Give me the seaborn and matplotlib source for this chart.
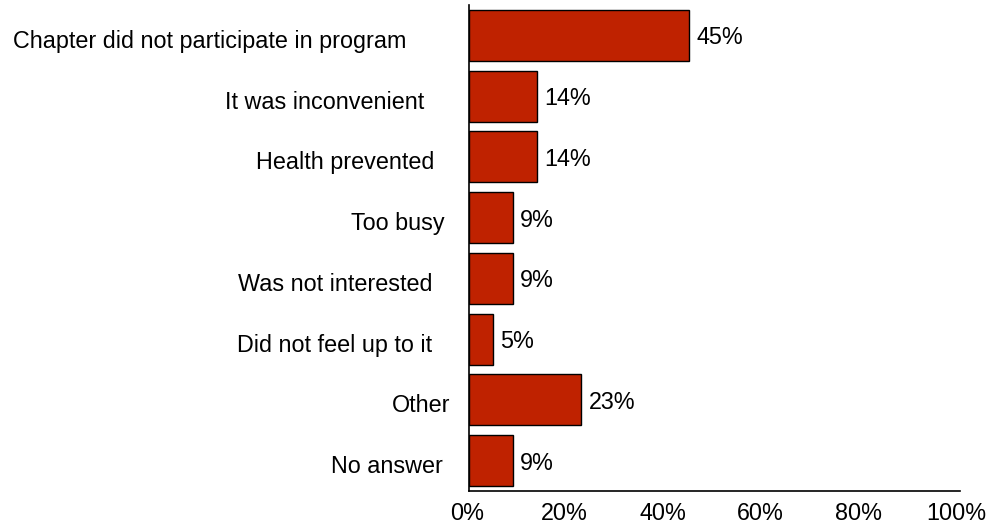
import matplotlib
matplotlib.use("Agg")
import matplotlib.pyplot as plt
import matplotlib.transforms as mtransforms
import seaborn as sns
import pandas as pd

reasons = ['Chapter did not participate in program',
           'It was inconvenient',
           'Health prevented',
           'Too busy',
           'Was not interested',
           'Did not feel up to it',
           'Other',
           'No answer']
percents = [45, 14, 14, 9, 9, 5, 23, 9]
ticks = [0, 20, 40, 60, 80, 100]
tick_labels = ['0%', '20%', '40%', '60%', '80%', '100%']

# gap between each label and the axis, in px (labels in the source were not aligned)
label_gaps = [63, 45, 35, 24, 37, 37, 19, 26]

df = pd.DataFrame({'reason': reasons, 'pct': percents})

sns.set_style('white')
plt.rcParams['font.family'] = ['Liberation Sans', 'DejaVu Sans']
fs = 16.8

fig = plt.figure(figsize=(9.88, 5.25), dpi=100)
ax = fig.add_axes([0.4747, 0.0648, 0.4970, 0.9257])

sns.barplot(data=df, x='pct', y='reason', orient='h', color='#BF2200',
            saturation=1, width=0.84, edgecolor='black', linewidth=1, ax=ax)

for i, v in enumerate(percents):
    ax.annotate(f'{v}%', xy=(v, i), xytext=(5, 0), textcoords='offset points',
                va='center_baseline', ha='left', fontsize=fs, color='black')

ax.set_xlim(0, 100.4)
ax.set_ylim(7.5, -0.5)
ax.set_xticks(ticks)
ax.set_xticklabels(tick_labels)
ax.set_xlabel('')
ax.set_ylabel('')
ax.tick_params(axis='both', length=0, labelsize=fs, labelcolor='black')
ax.tick_params(axis='x', pad=8)
for t, g in zip(ax.yaxis.get_major_ticks(), label_gaps):
    t.set_pad(g * 0.72)

# category labels sit a little below the bar centres in the source
shift = mtransforms.ScaledTranslation(0, -2.5 / 72, fig.dpi_scale_trans)
for lbl in ax.get_yticklabels():
    lbl.set_transform(lbl.get_transform() + shift)
xshift = mtransforms.ScaledTranslation(-1.5 / 72, 0, fig.dpi_scale_trans)
for lbl in ax.get_xticklabels():
    lbl.set_transform(lbl.get_transform() + xshift)

for s in ['top', 'right']:
    ax.spines[s].set_visible(False)
for s in ['left', 'bottom']:
    ax.spines[s].set_color('black')
    ax.spines[s].set_linewidth(1.2)

fig.savefig('out.png', dpi=100)
